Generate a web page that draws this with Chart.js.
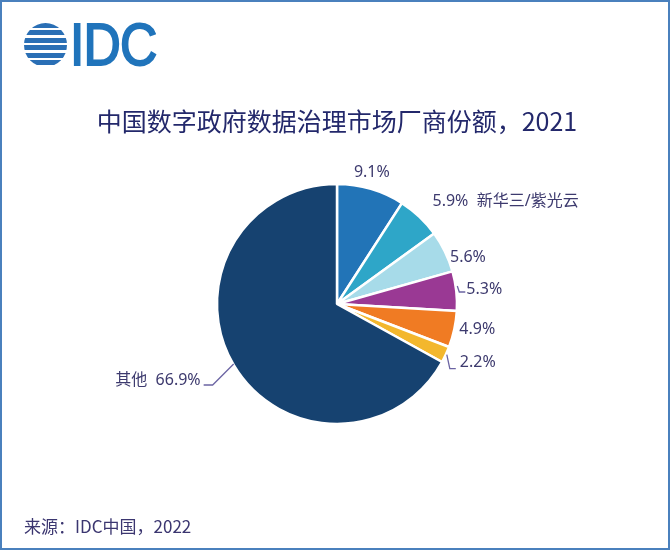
<!DOCTYPE html>
<html><head><meta charset="utf-8">
<script src="https://cdn.jsdelivr.net/npm/chart.js@4/dist/chart.umd.min.js"></script>
<style>
html,body{margin:0;padding:0;background:#fff;}
#frame{position:relative;width:670px;height:550px;box-sizing:border-box;border:2px solid #4a80bd;overflow:hidden;background:#fff;}
#c{position:absolute;left:0;top:0;}
.logo-globe{position:absolute;left:22px;top:21px;width:43px;height:44px;border-radius:50%;
 background:repeating-linear-gradient(to bottom,#2a6fb5 0px,#2a6fb5 5px,#fff 5px,#fff 7.5px);}
.logo-text{position:absolute;left:68px;top:6px;font-family:"Liberation Sans",Arial,sans-serif;font-size:60px;font-weight:400;color:#2074bb;letter-spacing:-1px;line-height:74px;-webkit-text-stroke:2px #2074bb;transform:scaleX(0.86);transform-origin:0 0;}
.title{position:absolute;left:0;width:670px;top:101px;text-align:center;font-family:"Noto Sans CJK SC",sans-serif;font-size:25px;color:#23286b;line-height:34px;}
.foot{position:absolute;left:22px;top:512px;font-family:"Noto Sans CJK SC",sans-serif;font-size:17px;color:#3b3670;line-height:24px;}
</style></head>
<body>
<div id="frame">
<canvas id="c" width="670" height="550"></canvas>
<div class="logo-globe"></div>
<div class="logo-text">IDC</div>
<div class="title">中国数字政府数据治理市场厂商份额，2021</div>
<div class="foot">来源：IDC中国，2022</div>
</div>
<script>
const vendors = ['厂商A', '新华三/紫光云', '厂商C', '厂商D', '厂商E', '厂商F', '其他'];
const shares = [9.1, 5.9, 5.6, 5.3, 4.9, 2.2, 66.9];
const nameShown = ['', '新华三/紫光云', '', '', '', '', '其他'];
const sliceColors = ['#2274b7', '#2ea6c8', '#a7dbe9', '#9a3994', '#f07b23', '#f3b72d', '#164270'];

const labelPlacement = [
  {dx: 1, dy: -16, align: 'center'},
  {dx: 13, dy: -15, align: 'left'},
  {dx: 5, dy: 6, align: 'left'},
  {dx: 10, dy: -2, align: 'left', leader: [[1, -5], [3, 1], [9, 1]]},
  {dx: 5, dy: 0, align: 'left'},
  {dx: 14, dy: 8, align: 'left', leader: [[1, 0], [4, 14], [10, 14]]},
  {dx: -33, dy: 15, align: 'right', leader: [[0, -1], [-21, 20], [-30, 20]]}
];

const outsideLabels = {
  id: 'outsideLabels',
  afterDatasetsDraw(chart) {
    const ctx = chart.ctx;
    const meta = chart.getDatasetMeta(0);
    ctx.save();
    ctx.font = '16px "Noto Sans", "Noto Sans CJK SC", sans-serif';
    ctx.textBaseline = 'middle';
    meta.data.forEach((arc, i) => {
      const p = arc.getProps(['x', 'y', 'startAngle', 'endAngle', 'outerRadius'], true);
      const mid = (p.startAngle + p.endAngle) / 2;
      const ax = p.x + Math.cos(mid) * p.outerRadius;
      const ay = p.y + Math.sin(mid) * p.outerRadius;
      const lp = labelPlacement[i];
      if (lp.leader) {
        ctx.strokeStyle = '#6b64a3';
        ctx.lineWidth = 1.3;
        ctx.beginPath();
        lp.leader.forEach((pt, k) => {
          if (k === 0) ctx.moveTo(ax + pt[0], ay + pt[1]); else ctx.lineTo(ax + pt[0], ay + pt[1]);
        });
        ctx.stroke();
      }
      const pct = shares[i].toFixed(1) + '%';
      let txt = pct;
      if (nameShown[i]) txt = lp.align === 'right' ? nameShown[i] + '  ' + pct : pct + '  ' + nameShown[i];
      ctx.fillStyle = '#3d3a6e';
      ctx.textAlign = lp.align;
      ctx.fillText(txt, ax + lp.dx, ay + lp.dy);
    });
    ctx.restore();
  }
};

new Chart(document.getElementById('c'), {
  type: 'pie',
  data: {
    labels: vendors,
    datasets: [{
      data: shares,
      backgroundColor: sliceColors,
      borderColor: '#ffffff',
      borderWidth: 2.5
    }]
  },
  options: {
    responsive: false,
    animation: false,
    radius: 120,
    layout: {padding: {left: 185, right: 185, top: 152, bottom: 98}},
    plugins: {legend: {display: false}, tooltip: {enabled: false}, title: {display: false}}
  },
  plugins: [outsideLabels]
});
</script>
</body></html>
